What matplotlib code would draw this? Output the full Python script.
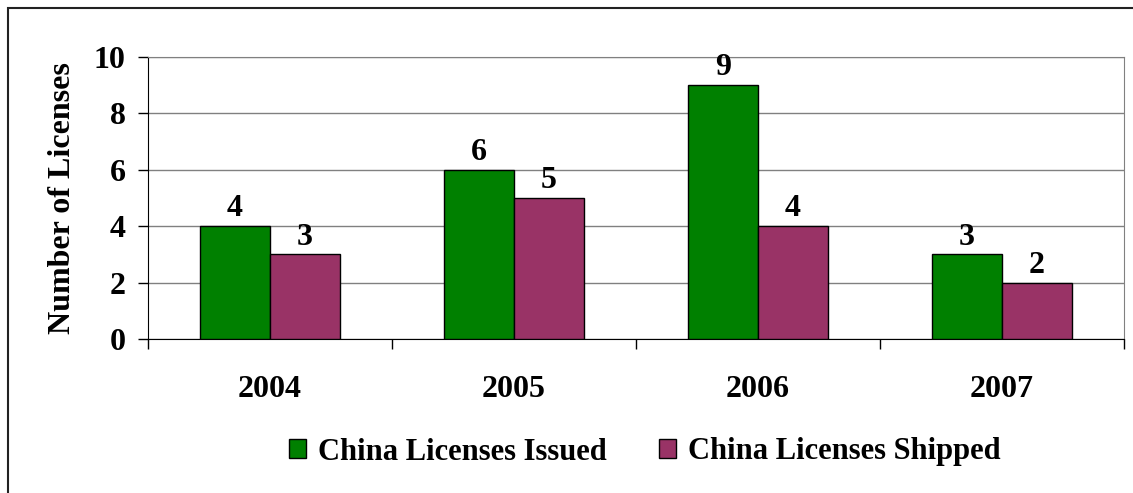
import numpy as np
import matplotlib.pyplot as plt
from matplotlib.patches import Rectangle

# Chart data
years = ['2004', '2005', '2006', '2007']
issued = [4, 6, 9, 3]
shipped = [3, 5, 4, 2]

plt.rcParams['font.family'] = ['Liberation Serif', 'DejaVu Serif']
plt.rcParams['font.weight'] = 'bold'
fs = 23

fig = plt.figure(figsize=(11.33, 4.93), dpi=100)
ax = fig.add_axes([148 / 1133, 1 - 339 / 493, 976 / 1133, 282 / 493])

# outer frame (only left/top visible in the original)
fig.patches.append(Rectangle((8 / 1133, -0.1), 1.2, (485 / 493) + 0.1,
                             transform=fig.transFigure, fill=False,
                             edgecolor='#222222', lw=1.5))

x = np.arange(len(years))
w = 0.287
b1 = ax.bar(x - w / 2, issued, w, color='#008000', edgecolor='black', lw=1, zorder=3,
            label='China Licenses Issued')
b2 = ax.bar(x + w / 2, shipped, w, color='#993366', edgecolor='black', lw=1, zorder=3,
            label='China Licenses Shipped')

# value labels above bars
for bars, vals in ((b1, issued), (b2, shipped)):
    for r, v in zip(bars, vals):
        ax.annotate(str(v), (r.get_x() + r.get_width() / 2, v), xytext=(0, 2),
                    textcoords='offset points', ha='center', va='bottom',
                    fontsize=fs, fontweight='bold')

ax.set_xlim(-0.5, len(years) - 0.5)
ax.set_ylim(0, 10)
ax.set_yticks(range(0, 11, 2))
ax.grid(axis='y', color='#808080', lw=1, zorder=0)
ax.set_axisbelow(True)

ax.set_xticks(x)
ax.set_xticklabels(years)
ax.set_xticks(np.arange(-0.5, len(years), 1), minor=True)
ax.tick_params(axis='x', which='major', length=0, pad=26, labelsize=fs)
ax.tick_params(axis='x', which='minor', length=7, direction='out', width=1)
ax.tick_params(axis='y', length=7, direction='out', width=1, pad=9, labelsize=fs)

for s in ('left', 'bottom'):
    ax.spines[s].set_color('black')
ax.spines['right'].set_color('#808080')
ax.spines['top'].set_color('#808080')

ax.set_ylabel('Number of Licenses', fontsize=fs, fontweight='bold')
ax.yaxis.set_label_coords(-0.073, 0.5)

fig.legend(handles=[b1, b2], loc='center', bbox_to_anchor=(645 / 1133, 1 - 452 / 493),
           ncol=2, frameon=False, fontsize=22, handlelength=0.55, handleheight=0.55,
           handletextpad=0.4, columnspacing=1.7)

plt.savefig('out.png', dpi=100)
